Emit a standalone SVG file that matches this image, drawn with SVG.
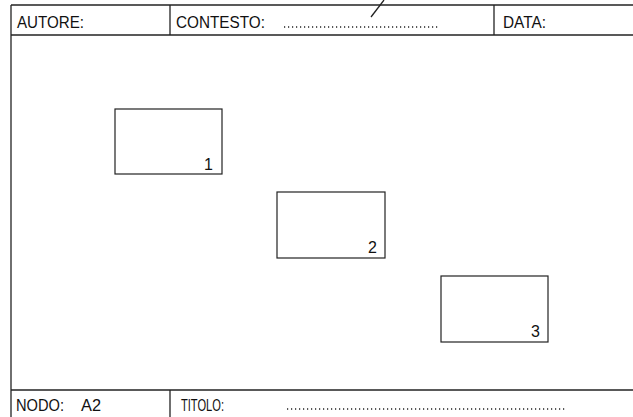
<svg xmlns="http://www.w3.org/2000/svg" width="633" height="417" viewBox="0 0 633 417">
<style>
.fr{fill:none;stroke:#222;stroke-width:1.3}
.bx{fill:#fff;stroke:#222;stroke-width:1.2}
.t{font-family:"Liberation Sans",Arial,sans-serif;font-size:16px;fill:#111}
.n{font-family:"Liberation Sans",Arial,sans-serif;font-size:16px;fill:#111}
.dots{stroke:#222;stroke-width:1.4;stroke-dasharray:1.2 2.8;fill:none}
</style>
<rect width="633" height="417" fill="#fff"/>
<g id="frame">
<line class="fr" x1="11" y1="5" x2="633" y2="5"/>
<line class="fr" x1="11" y1="5" x2="11" y2="417"/>
<line class="fr" x1="11" y1="35" x2="633" y2="35"/>
<line class="fr" x1="11" y1="390" x2="633" y2="390"/>
<line class="fr" x1="170" y1="5" x2="170" y2="35"/>
<line class="fr" x1="494" y1="5" x2="494" y2="35"/>
<line class="fr" x1="170" y1="390" x2="170" y2="417"/>
<line class="fr" x1="371" y1="17" x2="384" y2="0"/>
<text class="t" x="17" y="28" textLength="67" lengthAdjust="spacingAndGlyphs">AUTORE:</text>
<text class="t" x="176" y="28" textLength="89" lengthAdjust="spacingAndGlyphs">CONTESTO:</text>
<line class="dots" x1="284" y1="27" x2="440" y2="27"/>
<text class="t" x="503" y="28" textLength="43" lengthAdjust="spacingAndGlyphs">DATA:</text>
<text class="t" x="16" y="411" textLength="48" lengthAdjust="spacingAndGlyphs">NODO:</text>
<text class="t" x="81" y="411" textLength="20" lengthAdjust="spacingAndGlyphs">A2</text>
<text class="t" x="181" y="411" textLength="43" lengthAdjust="spacingAndGlyphs">TITOLO:</text>
<line class="dots" x1="287" y1="409" x2="567" y2="409"/>
</g>
<g id="node1">
<rect class="bx" x="115" y="109" width="107" height="65"/>
<text class="n" x="204" y="170">1</text>
</g>
<g id="node2">
<rect class="bx" x="277" y="192" width="108" height="66"/>
<text class="n" x="368" y="253">2</text>
</g>
<g id="node3">
<rect class="bx" x="441" y="276" width="107" height="66"/>
<text class="n" x="531" y="337">3</text>
</g>
<g id="connectors"></g>
</svg>
